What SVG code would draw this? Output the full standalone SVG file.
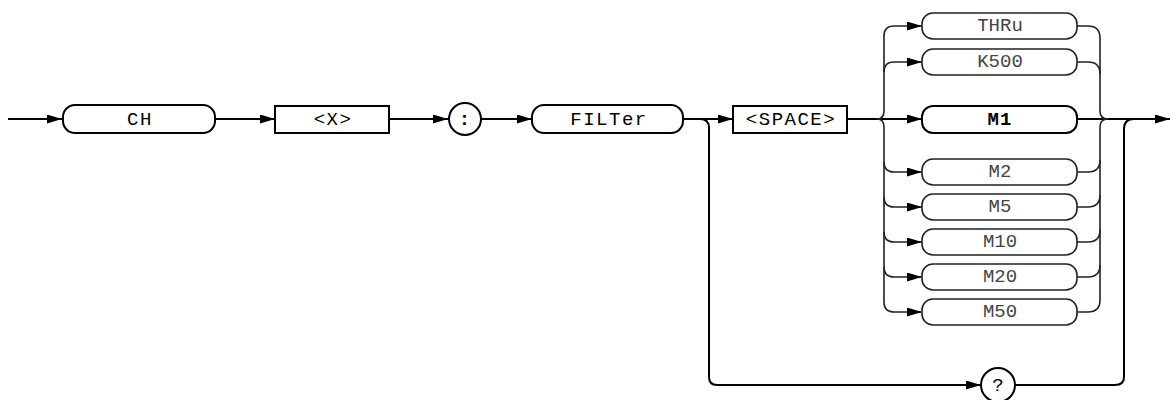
<svg xmlns="http://www.w3.org/2000/svg" width="1170" height="400" viewBox="0 0 1170 400">
<style>
.main{fill:none;stroke:#000;stroke-width:2}
.opt{fill:none;stroke:#222;stroke-width:1.6}
.box{fill:#fff;stroke:#000;stroke-width:2}
.obox{fill:#fff;stroke:#222;stroke-width:1.6}
.t{font-family:"Liberation Mono","Courier New",monospace;font-size:19px;fill:#000;text-anchor:middle;letter-spacing:1.5px}
.to{font-family:"Liberation Mono","Courier New",monospace;font-size:19px;fill:#444;text-anchor:middle}
.tb{font-family:"Liberation Mono","Courier New",monospace;font-size:19px;fill:#000;text-anchor:middle;font-weight:bold;letter-spacing:1px}
</style>
<defs>
<marker id="ah" markerUnits="userSpaceOnUse" markerWidth="15" markerHeight="10" refX="15" refY="4.5" orient="auto">
<path d="M0,0 L15,4.5 L0,9 z" fill="#000"/>
</marker>
</defs>
<g id="connectors">
<path class="main" d="M8,119 H62" marker-end="url(#ah)"/>
<path class="main" d="M215,119 H275" marker-end="url(#ah)"/>
<path class="main" d="M389,119 H448" marker-end="url(#ah)"/>
<path class="main" d="M481,119 H532" marker-end="url(#ah)"/>
<path class="main" d="M683,119 H733" marker-end="url(#ah)"/>
<path class="main" d="M847,119 H922" marker-end="url(#ah)"/>
<path class="main" d="M1077,119 H1170" marker-end="url(#ah)"/>
<!-- left brace -->
<path class="opt" d="M877,119 Q884,119 884,111 V36 Q884,26 894,26 H922" marker-end="url(#ah)"/>
<path class="opt" d="M884,72 Q884,62 894,62 H922" marker-end="url(#ah)"/>
<path class="opt" d="M877,119 Q884,119 884,127 V302 Q884,312 894,312 H922" marker-end="url(#ah)"/>
<path class="opt" d="M884,162 Q884,172 894,172 H922" marker-end="url(#ah)"/>
<path class="opt" d="M884,197 Q884,207 894,207 H922" marker-end="url(#ah)"/>
<path class="opt" d="M884,232 Q884,242 894,242 H922" marker-end="url(#ah)"/>
<path class="opt" d="M884,267 Q884,277 894,277 H922" marker-end="url(#ah)"/>
<!-- right brace -->
<path class="opt" d="M1077,26 H1088 Q1100,26 1100,38 V111 Q1100,119 1108,119"/>
<path class="opt" d="M1077,62 H1088 Q1100,62 1100,74"/>
<path class="opt" d="M1077,312 H1088 Q1100,312 1100,300 V127 Q1100,119 1108,119"/>
<path class="opt" d="M1077,172 H1088 Q1100,172 1100,160"/>
<path class="opt" d="M1077,207 H1088 Q1100,207 1100,195"/>
<path class="opt" d="M1077,242 H1088 Q1100,242 1100,230"/>
<path class="opt" d="M1077,277 H1088 Q1100,277 1100,265"/>
<!-- bottom loop -->
<path class="main" d="M700,119 Q709,119 709,128 V377 Q709,385 717,385 H981" marker-end="url(#ah)"/>
<path class="main" d="M1015,385 H1115 Q1124,385 1124,377 V129 Q1124,119 1134,119"/>
</g>
<g id="n-ch"><rect class="box" x="63" y="105" width="152" height="28" rx="12"/><text class="t" x="140" y="125">CH</text></g>
<g id="n-x"><rect class="box" x="275" y="106" width="114" height="27"/><text class="t" x="333" y="125">&lt;X&gt;</text></g>
<g id="n-colon"><circle class="box" cx="465" cy="119" r="16"/><text class="tb" x="465" y="125">:</text></g>
<g id="n-filter"><rect class="box" x="532" y="105" width="151" height="28" rx="12"/><text class="t" x="609" y="125">FILTer</text></g>
<g id="n-space"><rect class="box" x="733" y="106" width="114" height="27"/><text class="t" x="791" y="125">&lt;SPACE&gt;</text></g>
<g id="n-thru"><rect class="obox" x="922" y="13" width="155" height="26" rx="11"/><text class="to" x="1000" y="31">THRu</text></g>
<g id="n-k500"><rect class="obox" x="922" y="49" width="155" height="26" rx="11"/><text class="to" x="1000" y="67">K500</text></g>
<g id="n-m1"><rect class="box" x="922" y="106" width="155" height="27" rx="11"/><text class="tb" x="1000" y="125">M1</text></g>
<g id="n-m2"><rect class="obox" x="922" y="159" width="155" height="26" rx="11"/><text class="to" x="1000" y="177">M2</text></g>
<g id="n-m5"><rect class="obox" x="922" y="194" width="155" height="26" rx="11"/><text class="to" x="1000" y="212">M5</text></g>
<g id="n-m10"><rect class="obox" x="922" y="229" width="155" height="26" rx="11"/><text class="to" x="1000" y="247">M10</text></g>
<g id="n-m20"><rect class="obox" x="922" y="264" width="155" height="26" rx="11"/><text class="to" x="1000" y="282">M20</text></g>
<g id="n-m50"><rect class="obox" x="922" y="299" width="155" height="26" rx="11"/><text class="to" x="1000" y="317">M50</text></g>
<g id="n-q"><circle class="box" cx="998" cy="385" r="17"/><text class="t" x="998" y="391" style="letter-spacing:0">?</text></g>
</svg>
